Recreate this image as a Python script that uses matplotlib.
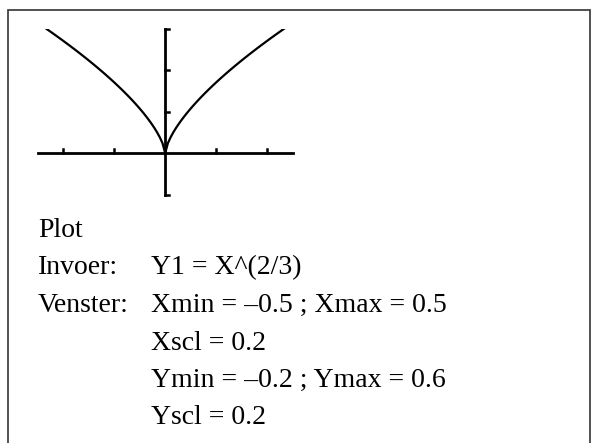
import numpy as np
import matplotlib
matplotlib.use('Agg')
import matplotlib.pyplot as plt
from matplotlib.patches import Rectangle

# calculator window settings (from the text in the picture)
xmin, xmax, xscl = -0.5, 0.5, 0.2
ymin, ymax, yscl = -0.2, 0.6, 0.2
n_pixels = 95  # screen columns of the calculator

labels_left = ['Plot', 'Invoer:', 'Venster:', '', '', '']
labels_right = ['', 'Y1 = X^(2/3)', 'Xmin = \u20130.5 ; Xmax = 0.5',
                'Xscl = 0.2', 'Ymin = \u20130.2 ; Ymax = 0.6', 'Yscl = 0.2']

W, H = 591, 443
fig = plt.figure(figsize=(W / 100, H / 100), dpi=100)

# box round everything, open at the bottom
fig.patches.append(Rectangle((7.5 / W, -0.1), (589.5 - 7.5) / W, 1.1 - 9.5 / H,
                             transform=fig.transFigure, fill=False,
                             edgecolor='#333333', linewidth=1.2))

ax = fig.add_axes([37.7 / W, 1 - 194.5 / H, 255 / W, 165.5 / H])
ax.set_xlim(xmin, xmax)
ax.set_ylim(ymin, ymax)
ax.axis('off')

x = np.linspace(xmin, xmax, n_pixels)
y = np.cbrt(x) ** 2
ax.plot(x, y, color='black', linewidth=1.6)

# axes of the calculator screen
ax.plot([xmin, xmax], [0, 0], color='black', linewidth=2, clip_on=False)
ax.plot([0, 0], [ymin, ymax], color='black', linewidth=2, clip_on=False)

tick_h = 4.5 / 207
tick_w = 4 / 255
for t in np.arange(-2, 3) * xscl:
    if abs(t) > 1e-9:
        ax.plot([t, t], [0, tick_h], color='black', linewidth=1.8, clip_on=False)
for t in np.arange(-1, 4) * yscl:
    if abs(t) > 1e-9:
        ax.plot([0, tick_w], [t, t], color='black', linewidth=1.8, clip_on=False)

baselines = [237, 274.5, 312, 349.5, 387, 424.5]
for b, l, r in zip(baselines, labels_left, labels_right):
    fig.text(38 / W, 1 - b / H, l, family='Liberation Serif', fontsize=20,
             va='baseline', ha='left')
    fig.text(151 / W, 1 - b / H, r, family='Liberation Serif', fontsize=20,
             va='baseline', ha='left')

fig.savefig('out.png', dpi=100)
